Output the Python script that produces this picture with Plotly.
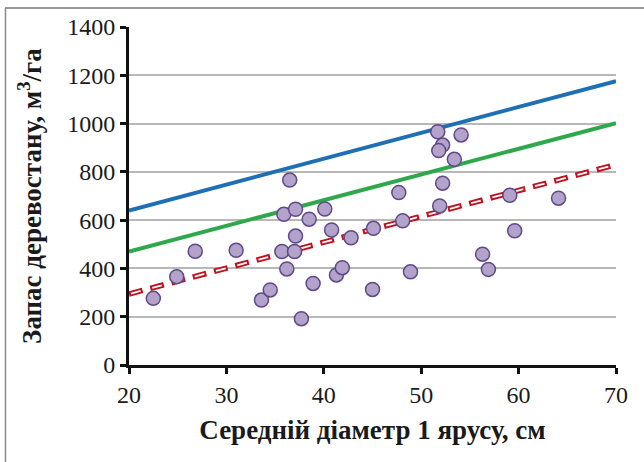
import plotly.graph_objects as go

# Scatter data: mean diameter of 1st storey (cm) vs growing stock (m3/ha)
diameter = [22.5, 24.9, 26.8, 31.0, 33.6, 34.5, 35.7, 35.9, 36.2, 36.5, 37.0, 37.1,
            37.1, 37.7, 38.5, 38.9, 40.1, 40.8, 41.3, 41.9, 42.8, 45.0, 45.1, 47.7,
            48.1, 48.9, 52.2, 51.7, 51.8, 51.9, 52.2, 53.4, 54.1, 56.3, 56.9, 59.1,
            59.6, 64.1]
volume = [276, 366, 471, 475, 269, 311, 470, 624, 398, 766, 470, 534,
          645, 192, 604, 338, 646, 559, 373, 403, 527, 313, 566, 714,
          597, 386, 911, 966, 888, 659, 753, 852, 953, 459, 396, 703,
          556, 691]

# Reference lines (read at x = 20 and x = 70)
line_x = [20, 70]
blue_y = [640, 1176]
green_y = [470, 1002]
red_y = [294, 830]

x_ticks = [20, 30, 40, 50, 60, 70]
y_ticks = [0, 200, 400, 600, 800, 1000, 1200, 1400]

FONT = "Liberation Serif"

fig = go.Figure()
fig.add_trace(go.Scatter(x=line_x, y=blue_y, mode="lines",
                         line=dict(color="#1f6fb5", width=4), showlegend=False))
fig.add_trace(go.Scatter(x=line_x, y=green_y, mode="lines",
                         line=dict(color="#2ea84a", width=4), showlegend=False))
fig.add_trace(go.Scatter(x=line_x, y=red_y, mode="lines",
                         line=dict(color="#c0101e", width=5.5, dash="14px,8px"),
                         showlegend=False))
fig.add_trace(go.Scatter(x=line_x, y=red_y, mode="lines",
                         line=dict(color="white", width=1.8, dash="0px,2px,10px,10px"),
                         showlegend=False))
fig.add_trace(go.Scatter(x=diameter, y=volume, mode="markers",
                         marker=dict(size=14, color="#b3a2c9",
                                     line=dict(color="#5e4a8a", width=1.5)),
                         showlegend=False))

L, R, T, B = 129, 28, 27, 97
W, H = 644, 462
pw, ph = W - L - R, H - T - B

def px_x(p):
    return (p - L) / pw

def px_y(p):
    return (H - B - p) / ph

# outer frame (top and left edges visible)
fig.add_shape(type="line", xref="paper", yref="paper",
              x0=px_x(5), x1=px_x(W + 5), y0=px_y(8), y1=px_y(8),
              line=dict(color="#333333", width=1.2))
fig.add_shape(type="line", xref="paper", yref="paper",
              x0=px_x(5.5), x1=px_x(5.5), y0=px_y(8), y1=px_y(H + 5),
              line=dict(color="#8a8a8a", width=1.5))

fig.update_layout(
    width=W, height=H,
    margin=dict(l=L, r=R, t=T, b=B, pad=0),
    paper_bgcolor="white", plot_bgcolor="white",
    font=dict(family=FONT, color="#1a1a1a", size=24),
    xaxis=dict(range=[20, 70], tickvals=x_ticks, ticks="outside", ticklen=6,
               tickwidth=2.5, tickcolor="#111", showline=True, linecolor="#111",
               linewidth=3, showgrid=False, zeroline=False,
               tickfont=dict(family=FONT, size=24, color="#1a1a1a"),
               title=dict(text="<b>Середній діаметр 1 ярусу, см</b>",
                          font=dict(family=FONT, size=27, color="#1a1a1a"),
                          standoff=14)),
    yaxis=dict(range=[0, 1400], tickvals=y_ticks, ticks="outside", ticklen=6,
               tickwidth=2.5, tickcolor="#111", showline=True, linecolor="#111",
               linewidth=3, showgrid=True, gridcolor="#b8b8b8", gridwidth=1.5,
               zeroline=False,
               tickfont=dict(family=FONT, size=24, color="#1a1a1a"),
               title=dict(text="<b>Запас деревостану, м<sup>3</sup>/га</b>",
                          font=dict(family=FONT, size=27, color="#1a1a1a"),
                          standoff=18)),
)

fig.write_html("out.html")
